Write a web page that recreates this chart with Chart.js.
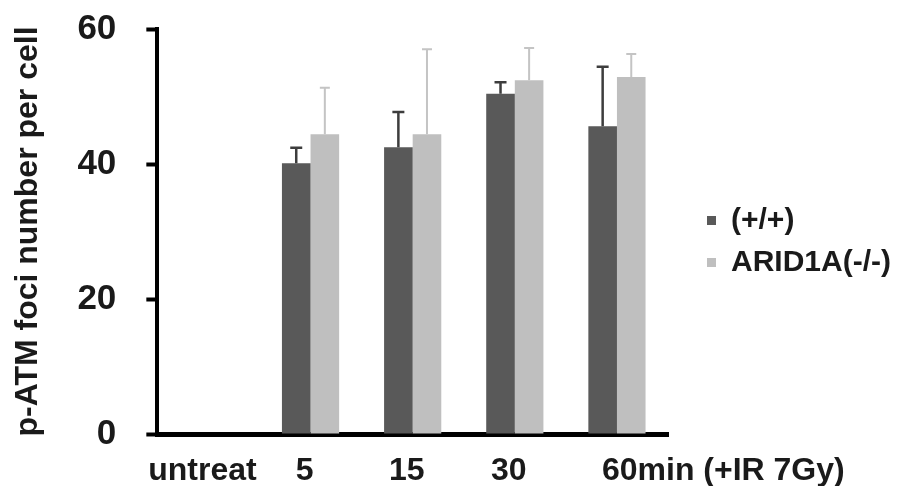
<!DOCTYPE html>
<html><head><meta charset="utf-8">
<script src="https://cdn.jsdelivr.net/npm/chart.js@4/dist/chart.umd.min.js"></script>
<style>html,body{margin:0;padding:0;background:#fff;} #wrap{width:900px;height:486px;}</style>
</head><body><div id="wrap"><canvas id="c" width="900" height="486"></canvas></div>
<script>
const categories = ["untreat", "5", "15", "30", "60min (+IR 7Gy)"];
const seriesNames = ["(+/+)", "ARID1A(-/-)"];
const wildType = [0, 40.1, 42.5, 50.4, 45.6];
const wildTypeErr = [0, 2.3, 5.2, 1.7, 8.8];
const arid1a = [0, 44.4, 44.4, 52.4, 52.9];
const arid1aErr = [0, 6.9, 12.6, 4.8, 3.4];
const yTicks = [0, 20, 40, 60];
const yTitle = "p-ATM foci number per cell";

const FONT = "'Liberation Sans', Arial, sans-serif";
const TXT = "#1a1a1a";

const errorBars = {
  id: 'errorBars',
  afterDatasetsDraw(chart) {
    const ctx = chart.ctx, ys = chart.scales.y;
    chart.data.datasets.forEach((ds, i) => {
      const meta = chart.getDatasetMeta(i);
      meta.data.forEach((bar, j) => {
        const v = ds.data[j], e = ds.errors[j];
        if (!v || !e) return;
        const top = ys.getPixelForValue(v + e);
        ctx.save();
        ctx.strokeStyle = ds.errorColor;
        ctx.lineWidth = ds.errorWidth;
        ctx.beginPath();
        ctx.moveTo(bar.x, bar.y);
        ctx.lineTo(bar.x, top);
        ctx.moveTo(bar.x - ds.capWidth / 2, top);
        ctx.lineTo(bar.x + ds.capWidth / 2, top);
        ctx.stroke();
        ctx.restore();
      });
    });
  }
};

const lastLabel = {
  id: 'lastLabel',
  beforeDraw(chart) {
    const xs = chart.scales.x;
    const items = xs.getLabelItems();
    const last = items[items.length - 1];
    if (last) {
      last.options.textAlign = 'left';
      last.options.translation[0] = xs.getPixelForTick(items.length - 1) - 15;
    }
  }
};

const legendShift = {
  id: 'legendShift',
  afterLayout(chart) {
    const lg = chart.legend;
    const dx = 27, dy = -16;
    lg.left += dx; lg.right += dx;
    lg.top += dy; lg.bottom += dy;
  }
};

new Chart(document.getElementById('c'), {
  type: 'bar',
  data: {
    labels: categories,
    datasets: [
      { label: seriesNames[0], data: wildType, errors: wildTypeErr, backgroundColor: '#595959',
        errorColor: '#3d3d3d', errorWidth: 2.5, capWidth: 12 },
      { label: seriesNames[1], data: arid1a, errors: arid1aErr, backgroundColor: '#bfbfbf',
        errorColor: '#c4c4c4', errorWidth: 2, capWidth: 10 }
    ]
  },
  options: {
    responsive: false,
    animation: false,
    devicePixelRatio: 1,
    layout: { padding: { top: 29, left: 0, right: 26, bottom: 0 } },
    datasets: { bar: { barPercentage: 1.0, categoryPercentage: 0.56 } },
    plugins: {
      legend: {
        position: 'right',
        labels: {
          boxWidth: 9, boxHeight: 9, padding: 12, color: TXT,
          font: { family: FONT, size: 30, weight: 'bold' }
        }
      },
      tooltip: { enabled: false }
    },
    scales: {
      x: {
        grid: { display: false, drawTicks: false },
        border: { display: true, color: '#000', width: 5 },
        afterFit(scale) { scale.height = 52; },
        ticks: { color: TXT, padding: 18, labelOffset: -6, maxRotation: 0, autoSkip: false,
                 font: { family: FONT, size: 32, weight: 'bold' } }
      },
      y: {
        min: 0, max: 60,
        afterBuildTicks(scale) { scale.ticks = yTicks.map(v => ({ value: v })); },
        afterFit(scale) { scale.paddingTop = 0; scale.paddingBottom = 0; },
        grid: { drawOnChartArea: false, drawTicks: true, tickLength: 11, tickWidth: 4, tickColor: '#000' },
        border: { display: true, color: '#000', width: 4 },
        ticks: { color: TXT, padding: 30, font: { family: FONT, size: 35, weight: 'bold' } },
        title: { display: true, text: yTitle, color: TXT, padding: { top: 9, bottom: 0 },
                 font: { family: FONT, size: 32, weight: 'bold' } }
      }
    }
  },
  plugins: [errorBars, lastLabel, legendShift]
});
</script>
</body></html>
